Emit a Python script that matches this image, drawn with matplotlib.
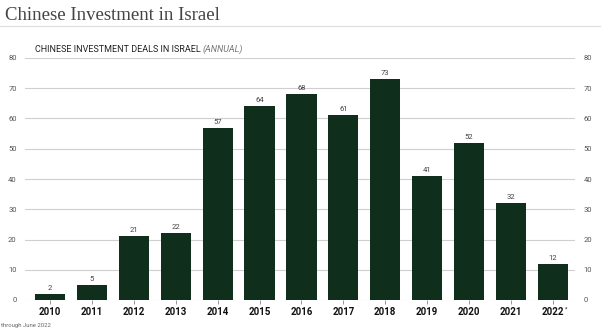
import matplotlib
matplotlib.use("Agg")
import matplotlib.pyplot as plt
import numpy as np

years = ["2010", "2011", "2012", "2013", "2014", "2015", "2016", "2017", "2018", "2019", "2020", "2021", "2022"]
deals = [2, 5, 21, 22, 57, 64, 68, 61, 73, 41, 52, 32, 12]
yticks = [0, 10, 20, 30, 40, 50, 60, 70, 80]

bar_color = "#0f2e1c"
grid_color = "#cfcfcf"

fig = plt.figure(figsize=(6.04, 3.30), dpi=100)
ax = fig.add_axes([25/604, 30/330, 550/604, 242/330])

x = np.arange(len(years))
ax.bar(x, deals, width=0.72, color=bar_color, zorder=3)
for xi, v in zip(x, deals):
    ax.text(xi, v + 1.0, str(v), ha="center", va="bottom", fontsize=5.5,
            color="#444444", family="Roboto", zorder=4)

ax.set_ylim(0, 80)
ax.set_xlim(-0.6, 12.53)
ax.set_yticks(yticks)
ax.yaxis.grid(True, color=grid_color, linewidth=0.8, zorder=0)
ax.tick_params(axis="y", length=0, labelsize=5.5, labelcolor="#555555",
               left=True, right=True, labelleft=True, labelright=True, pad=6)
for lbl in ax.get_yticklabels():
    lbl.set_family("Roboto")
ax.set_xticks(x)
ax.set_xticklabels(years, fontsize=7, fontweight="bold", family="Roboto", color="#111111")
ax.tick_params(axis="x", length=3, width=0.6, color="#888888", pad=2)
for s in ax.spines.values():
    s.set_visible(False)

fig.canvas.draw()
last = ax.get_xticklabels()[-1].get_window_extent()
fig.text(last.x1 / fig.bbox.width + 0.001, last.y1 / fig.bbox.height, "*", fontsize=4,
         family="Roboto", color="#111111", ha="left", va="top")

fig.text(5/604, 1 - 16/330, "Chinese Investment in Israel", fontsize=13.5,
         family="Liberation Serif", color="#444444", va="center", ha="left")
fig.add_artist(plt.Line2D([0, 600/604], [1 - 26/330, 1 - 26/330], color="#dddddd",
                          linewidth=0.8, transform=fig.transFigure))
t1 = fig.text(35/604, 1 - 49/330, "CHINESE INVESTMENT DEALS IN ISRAEL ", fontsize=6.5,
              family="Roboto", color="#222222", va="center", ha="left")
fig.canvas.draw()
bb = t1.get_window_extent()
fig.text(bb.x1 / fig.bbox.width, 1 - 49/330, "(ANNUAL)", fontsize=6.5, family="Roboto",
         style="italic", color="#777777", va="center", ha="left")
fig.text(1/604, 1 - 326/330, "through June 2022", fontsize=4.3, family="Roboto",
         color="#666666", va="center", ha="left")

fig.savefig("out.png", dpi=100)
